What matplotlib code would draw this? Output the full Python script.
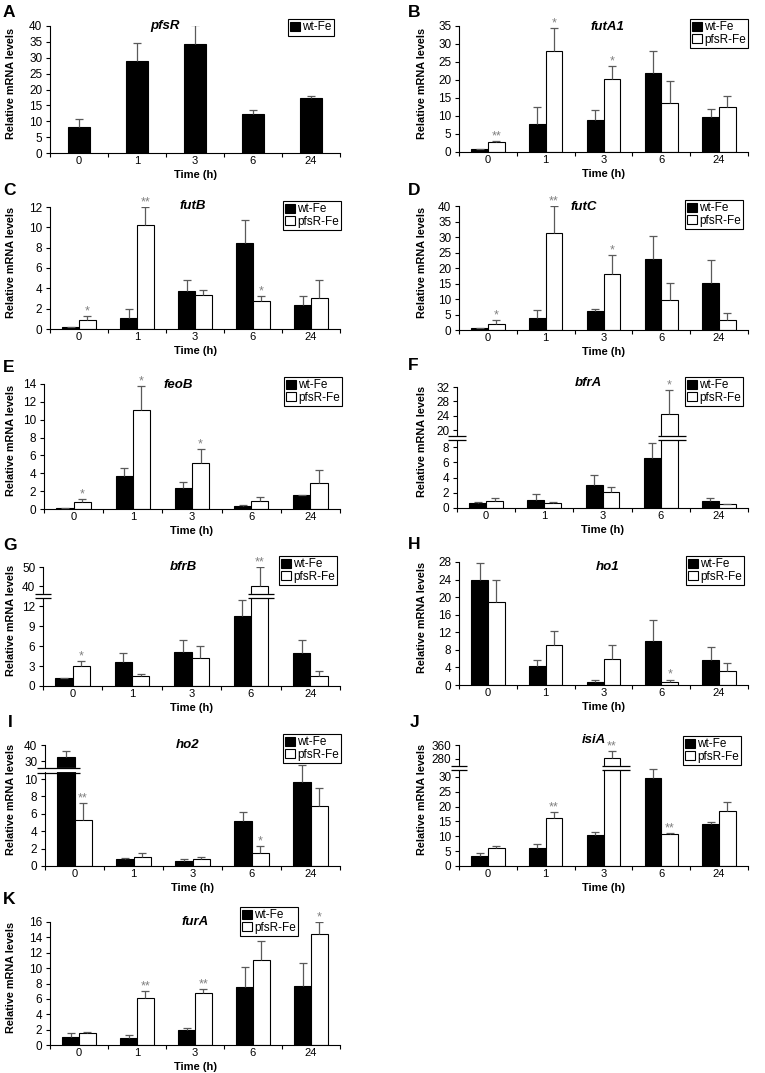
import numpy as np
import matplotlib
matplotlib.use("Agg")
import matplotlib.pyplot as plt
from matplotlib import transforms

plt.rcParams["font.family"] = ["Liberation Sans", "DejaVu Sans"]

W, H = 765, 1073
times = ["0", "1", "3", "6", "24"]

# values (mean and upper error)
pfsR_wt = [8.2, 29.0, 34.2, 12.4, 17.2]
pfsR_wt_err = [2.5, 5.6, 6.1, 1.1, 0.9]

futA1_wt = [0.75, 7.8, 9.0, 22.0, 9.8]
futA1_wt_err = [0.15, 4.7, 2.6, 6.0, 2.2]
futA1_pf = [2.7, 28.0, 20.4, 13.7, 12.5]
futA1_pf_err = [0.25, 6.5, 3.6, 6.1, 3.1]
futA1_stars = ["**", "*", "*", "", ""]

futB_wt = [0.2, 1.07, 3.78, 8.5, 2.38]
futB_wt_err = [0.0, 0.88, 1.02, 2.25, 0.82]
futB_pf = [0.85, 10.26, 3.35, 2.77, 3.03]
futB_pf_err = [0.39, 1.74, 0.5, 0.49, 1.79]
futB_stars = ["*", "**", "", "*", ""]

futC_wt = [0.75, 3.86, 6.0, 22.9, 15.3]
futC_wt_err = [0.0, 2.54, 0.75, 7.3, 7.2]
futC_pf = [1.9, 31.4, 18.1, 9.6, 3.2]
futC_pf_err = [1.3, 8.6, 6.0, 5.5, 2.3]
futC_stars = ["*", "**", "*", "", ""]

feoB_wt = [0.15, 3.75, 2.4, 0.35, 1.57]
feoB_wt_err = [0.0, 0.82, 0.6, 0.1, 0.0]
feoB_pf = [0.82, 11.1, 5.1, 0.93, 2.88]
feoB_pf_err = [0.28, 2.7, 1.6, 0.37, 1.52]
feoB_stars = ["*", "*", "*", "", ""]

bfrA_wt = [0.66, 1.06, 3.08, 6.56, 0.93]
bfrA_wt_err = [0.1, 0.74, 1.19, 2.0, 0.39]
bfrA_pf = [0.97, 0.62, 2.07, 24.4, 0.53]
bfrA_pf_err = [0.31, 0.22, 0.75, 6.8, 0.0]
bfrA_stars = ["", "", "", "*", ""]

bfrB_wt = [1.15, 3.65, 5.05, 10.55, 4.9]
bfrB_wt_err = [0.1, 1.25, 1.8, 2.35, 2.0]
bfrB_pf = [3.0, 1.5, 4.25, 40.3, 1.5]
bfrB_pf_err = [0.75, 0.25, 1.75, 9.7, 0.75]
bfrB_stars = ["*", "", "", "**", ""]

ho1_wt = [23.8, 4.3, 0.75, 10.1, 5.8]
ho1_wt_err = [4.0, 1.3, 0.5, 4.7, 2.9]
ho1_pf = [18.9, 9.0, 5.9, 0.75, 3.1]
ho1_pf_err = [5.0, 3.4, 3.3, 0.5, 1.8]
ho1_stars = ["", "", "", "*", ""]

ho2_wt = [32.5, 0.77, 0.6, 5.17, 9.7]
ho2_wt_err = [3.7, 0.15, 0.2, 1.07, 1.9]
ho2_pf = [5.29, 1.04, 0.8, 1.54, 6.9]
ho2_pf_err = [1.97, 0.5, 0.24, 0.76, 2.03]
ho2_stars = ["**", "", "", "*", ""]

isiA_wt = [3.5, 6.2, 10.4, 29.7, 14.1]
isiA_wt_err = [0.9, 1.1, 0.9, 3.0, 0.8]
isiA_pf = [6.0, 16.0, 286.0, 10.7, 18.4]
isiA_pf_err = [0.7, 2.3, 40.0, 0.3, 3.2]
isiA_stars = ["", "**", "**", "**", ""]

furA_wt = [1.1, 0.9, 2.0, 7.55, 7.7]
furA_wt_err = [0.4, 0.45, 0.27, 2.55, 3.0]
furA_pf = [1.5, 6.07, 6.72, 11.05, 14.5]
furA_pf_err = [0.2, 1.0, 0.58, 2.45, 1.5]
furA_stars = ["", "**", "**", "", "*"]

ecol = "#5a5a5a"
fig = plt.figure(figsize=(W / 100, H / 100), dpi=100)


def px_axes(box):
    l, t, r, b = box
    return fig.add_axes([l / W, 1 - b / H, (r - l) / W, (b - t) / H])


def broken_scale(cut, y0, f0, s):
    # identity below cut, compressed linear part above (anchored at y0 -> f0)
    u = y0 - (f0 - cut) / s
    xp = np.array([-1e6, cut, u, 1e7])
    fp = np.array([-1e6, cut, cut + 1e-6, f0 + (1e7 - y0) * s])
    return (lambda y: np.interp(y, xp, fp), lambda f: np.interp(f, fp, xp))


def break_mark(ax, x0, x1, y):
    for dy, c, lw in [(0, "white", 3.0), (2.2, "black", 0.9), (-2.2, "black", 0.9)]:
        tr = transforms.offset_copy(ax.transData, fig=fig, y=dy, units="dots")
        ax.plot([x0, x1], [y, y], color=c, lw=lw, transform=tr, clip_on=False,
                zorder=6, solid_capstyle="butt")


def err_up(ax, x, vals, errs):
    vals = np.array(vals)
    tops = vals + np.array(errs)
    ax.vlines(x, vals, tops, color=ecol, lw=0.9, zorder=3)
    ax.plot(x, tops, ls="none", marker="_", ms=6, mew=0.9, color=ecol, zorder=3)


def panel(box, letter, letter_xy, gene, gene_xy, legend_xy, yticks, wt, wt_err,
          pf=None, pf_err=None, stars=None, scale=None, breaks=()):
    ax = px_axes(box)
    if scale is not None:
        ax.set_yscale("function", functions=scale)
    x = np.arange(len(times))
    if pf is None:
        ax.bar(x, wt, 0.38, color="black", edgecolor="black", lw=0.8, label="wt-Fe", zorder=2)
        err_up(ax, x, wt, wt_err)
    else:
        w = 0.29
        ax.bar(x - w / 2, wt, w, color="black", edgecolor="black", lw=0.8, label="wt-Fe", zorder=2)
        ax.bar(x + w / 2, pf, w, color="white", edgecolor="black", lw=0.8, label="pfsR-Fe", zorder=2)
        err_up(ax, x - w / 2, wt, wt_err)
        err_up(ax, x + w / 2, pf, pf_err)
        for xi, v, e, s in zip(x + w / 2, pf, pf_err, stars):
            if s:
                ax.annotate(s, (xi, v + e), xytext=(0, -1), textcoords="offset points",
                            ha="center", va="bottom", color="#808080", fontsize=9)
    for x0, x1, yb in breaks:
        break_mark(ax, x0, x1, yb)

    ax.set_xlim(-0.5, 4.5)
    ax.set_ylim(0, yticks[-1])
    ax.set_yticks(yticks)
    ax.set_yticklabels([str(t) for t in yticks])
    ax.set_xticks(np.arange(-0.5, 5, 1))
    ax.set_xticklabels([])
    ax.set_xticks(x, minor=True)
    ax.set_xticklabels(times, minor=True)
    ax.tick_params(axis="x", which="major", direction="out", length=3, width=0.8)
    ax.tick_params(axis="x", which="minor", length=0, pad=2, labelsize=8)
    ax.tick_params(axis="y", which="major", direction="out", length=3, width=0.8,
                   pad=2.5, labelsize=8.5)
    ax.tick_params(axis="y", which="minor", length=0)
    for sp in ["top", "right"]:
        ax.spines[sp].set_visible(False)
    for sp in ["left", "bottom"]:
        ax.spines[sp].set_linewidth(0.8)

    ax.annotate("Time (h)", xy=(0.5, 0), xycoords="axes fraction", xytext=(0, -22),
                textcoords="offset pixels", ha="center", va="center",
                fontsize=8, fontweight="bold")
    l, t, r, b = box
    ylab_x = 11 if l < 300 else 422
    fig.text(ylab_x / W, 1 - ((t + b) / 2 - 6) / H, "Relative mRNA levels", rotation=90,
             ha="center", va="center", fontsize=7.8, fontweight="bold")
    fig.text(letter_xy[0] / W, 1 - letter_xy[1] / H, letter, ha="left", va="top",
             fontsize=12.5, fontweight="bold")
    fig.text(gene_xy[0] / W, 1 - gene_xy[1] / H, gene, ha="center", va="center",
             fontsize=9.5, fontweight="bold", style="italic")
    leg = ax.legend(loc="upper left", bbox_to_anchor=(legend_xy[0] / W, 1 - legend_xy[1] / H),
                    bbox_transform=fig.transFigure, frameon=True, fancybox=False,
                    edgecolor="black", framealpha=1, fontsize=8.5, handlelength=0.8,
                    handleheight=0.8, handletextpad=0.2, labelspacing=0.05,
                    borderpad=0.2, borderaxespad=0)
    leg.get_frame().set_linewidth(0.8)
    return ax


panel((50, 26, 340, 153), "A", (3, 5), "pfsR", (165, 26), (288, 19),
      list(range(0, 41, 5)), pfsR_wt, pfsR_wt_err)
panel((459, 26, 748, 152), "B", (408, 5), "futA1", (607, 27), (690, 19),
      list(range(0, 36, 5)), futA1_wt, futA1_wt_err, futA1_pf, futA1_pf_err, futA1_stars)
panel((50, 207, 340, 329), "C", (3, 183), "futB", (193, 206), (283, 201),
      list(range(0, 13, 2)), futB_wt, futB_wt_err, futB_pf, futB_pf_err, futB_stars)
panel((459, 206, 748, 330), "D", (408, 183), "futC", (584, 207), (685, 200),
      list(range(0, 41, 5)), futC_wt, futC_wt_err, futC_pf, futC_pf_err, futC_stars)
panel((44, 384, 340, 509), "E", (3, 360), "feoB", (178, 385), (284, 377),
      list(range(0, 15, 2)), feoB_wt, feoB_wt_err, feoB_pf, feoB_pf_err, feoB_stars)
panel((457, 387, 748, 508), "F", (408, 358), "bfrA", (588, 383), (685, 377),
      [0, 2, 4, 6, 8, 20, 24, 28, 32], bfrA_wt, bfrA_wt_err, bfrA_pf, bfrA_pf_err, bfrA_stars,
      scale=broken_scale(9.3, 20, 10.22, 0.471),
      breaks=[(-0.65, -0.35, 9.2), (2.95, 3.43, 9.2)])
panel((43, 567, 340, 686), "G", (3, 538), "bfrB", (183, 567), (279, 556),
      [0, 3, 6, 9, 12, 40, 50], bfrB_wt, bfrB_wt_err, bfrB_pf, bfrB_pf_err, bfrB_stars,
      scale=broken_scale(13.6, 40, 15.0, 0.29),
      breaks=[(-0.64, -0.36, 13.5), (2.95, 3.39, 13.5)])
panel((459, 562, 748, 685), "H", (408, 537), "ho1", (608, 567), (686, 556),
      list(range(0, 29, 4)), ho1_wt, ho1_wt_err, ho1_pf, ho1_pf_err, ho1_stars)
panel((45, 745, 340, 866), "I", (8, 715), "ho2", (188, 745), (283, 734),
      [0, 2, 4, 6, 8, 10, 30, 40], ho2_wt, ho2_wt_err, ho2_pf, ho2_pf_err, ho2_stars,
      scale=broken_scale(11.7, 30, 12.07, 0.184),
      breaks=[(-0.63, 0.1, 11.0)])
panel((459, 745, 748, 866), "J", (410, 715), "isiA", (594, 740), (683, 736),
      [0, 5, 10, 15, 20, 25, 30, 280, 360], isiA_wt, isiA_wt_err, isiA_pf, isiA_pf_err, isiA_stars,
      scale=broken_scale(33.0, 280, 36.0, 0.0588),
      breaks=[(-0.64, -0.36, 32.9), (1.97, 2.46, 32.9)])
panel((50, 922, 340, 1045), "K", (3, 892), "furA", (195, 922), (240, 907),
      list(range(0, 17, 2)), furA_wt, furA_wt_err, furA_pf, furA_pf_err, furA_stars)

fig.savefig("out.png", dpi=100)
